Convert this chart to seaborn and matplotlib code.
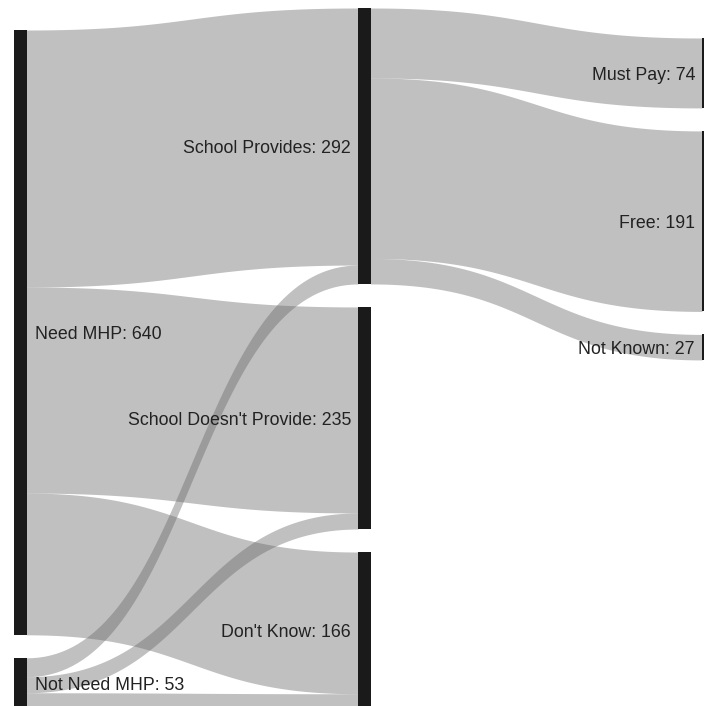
import numpy as np
import matplotlib.pyplot as plt
import seaborn as sns

sns.set_theme(style = 'white')
plt.rcParams['font.family'] = ['Liberation Sans', 'DejaVu Sans']

# nodes, grouped into three columns
node_names = ['Need MHP', 'Not Need MHP',
              'School Provides', "School Doesn't Provide", "Don't Know",
              'Must Pay', 'Free', 'Not Known']
node_column = [0, 0, 1, 1, 1, 2, 2, 2]

# links (source index -> target index)
link_source = [0, 0, 0, 1, 1, 1, 2, 2, 2]
link_target = [2, 3, 4, 2, 3, 4, 5, 6, 7]
link_value = [272, 218, 150, 20, 17, 16, 74, 191, 27]


def node_sizes():

    n = len(node_names)
    out_sum = np.zeros(n)
    in_sum = np.zeros(n)
    for s, t, v in zip(link_source, link_target, link_value):
        out_sum[s] += v
        in_sum[t] += v

    return np.maximum(out_sum, in_sum)


def bezier(x0, y0, x1, y1, n = 80):

    t = np.linspace(0, 1, n)
    xm = (x0 + x1) / 2
    x = (1 - t)**3 * x0 + 3 * (1 - t)**2 * t * xm + 3 * (1 - t) * t**2 * xm + t**3 * x1
    y = (1 - t)**3 * y0 + 3 * (1 - t)**2 * t * y0 + 3 * (1 - t) * t**2 * y1 + t**3 * y1

    return x, y


def plot_sankey() -> None:

    scale = 0.945           # pixels per respondent
    gap = 23
    bar_w = 12.5
    col_x = [14, 358, 702]
    col_top = [30, 8, 38]

    sizes = node_sizes()

    # stack nodes down each column
    node_y = np.zeros(len(node_names))
    cursor = list(col_top)
    for i, c in enumerate(node_column):
        node_y[i] = cursor[c]
        cursor[c] += sizes[i] * scale + gap

    fig = plt.figure(figsize = (7.04, 7.06), dpi = 100)
    ax = fig.add_axes([0, 0, 1, 1])

    # links
    out_off = node_y.copy()
    in_off = node_y.copy()
    order = sorted(range(len(link_value)), key = lambda k: (link_source[k], link_target[k]))
    in_start = {}
    for k in sorted(range(len(link_value)), key = lambda k: (link_target[k], link_source[k])):
        t = link_target[k]
        in_start[k] = in_off[t]
        in_off[t] += link_value[k] * scale

    for k in order:
        s, t, v = link_source[k], link_target[k], link_value[k]
        h = v * scale
        y0 = out_off[s]
        out_off[s] += h
        y1 = in_start[k]
        x0 = col_x[node_column[s]] + bar_w
        x1 = col_x[node_column[t]]
        xs, ys_top = bezier(x0, y0, x1, y1)
        ax.fill_between(xs, ys_top, ys_top + h, color = '#666666', alpha = 0.41, linewidth = 0)

    # node bars
    for i, name in enumerate(node_names):
        c = node_column[i]
        h = sizes[i] * scale
        ax.bar(col_x[c], h, bottom = node_y[i], width = bar_w, align = 'edge',
               color = '#1a1a1a', linewidth = 0)

        label = f'{name}: {int(sizes[i])}'
        yc = node_y[i] + h / 2 + 2.5
        if c == 0:
            ax.text(col_x[c] + bar_w + 8.5, yc, label, ha = 'left', va = 'center',
                    fontsize = 12.8, color = '#222222')
        else:
            ax.text(col_x[c] - 7, yc, label, ha = 'right', va = 'center',
                    fontsize = 12.8, color = '#222222')

    ax.set_xlim(0, 704)
    ax.set_ylim(706, 0)
    ax.axis('off')

    fig.savefig('out.png', dpi = 100, facecolor = 'white')


def main() -> None:

    plot_sankey()

if __name__ == '__main__': main()
